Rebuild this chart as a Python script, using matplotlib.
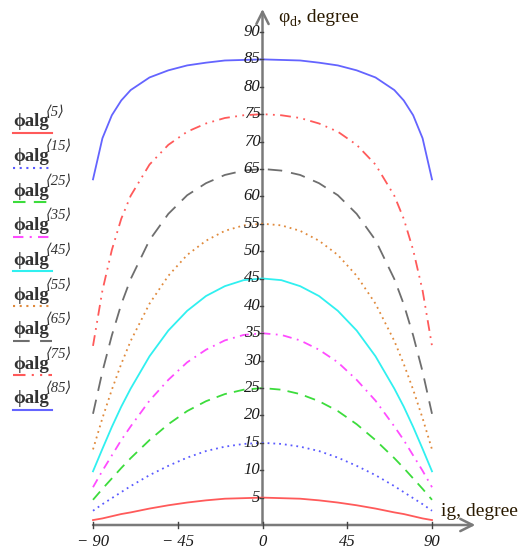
import matplotlib
matplotlib.use("Agg")
import matplotlib.pyplot as plt

# ---------------- data ----------------
ig = [-90, -85, -80, -75, -70, -60, -50, -40, -30, -20, -10, 0,
      10, 20, 30, 40, 50, 60, 70, 75, 80, 85, 90]

half_5  = [0.9, 1.2, 1.6, 2.0, 2.3, 3.0, 3.6, 4.1, 4.5, 4.8, 4.9, 5.0]
half_15 = [2.6, 3.8, 4.9, 6.0, 7.1, 9.1, 10.8, 12.3, 13.5, 14.3, 14.8, 15.0]
half_25 = [4.6, 6.6, 8.5, 10.4, 12.2, 15.5, 18.4, 20.8, 22.6, 23.9, 24.7, 25.0]
half_35 = [6.9, 9.9, 12.7, 15.5, 18.0, 22.7, 26.5, 29.7, 32.0, 33.7, 34.7, 35.0]
half_45 = [9.8, 13.9, 17.9, 21.6, 24.9, 30.8, 35.5, 39.1, 41.8, 43.6, 44.7, 45.0]
half_55 = [13.8, 19.5, 24.7, 29.4, 33.6, 40.4, 45.5, 49.3, 51.9, 53.7, 54.7, 55.0]
half_65 = [20.3, 28.0, 34.6, 40.3, 44.9, 52.0, 56.8, 60.2, 62.4, 63.9, 64.7, 65.0]
half_75 = [32.7, 42.8, 50.2, 55.9, 60.1, 65.8, 69.4, 71.8, 73.3, 74.3, 74.8, 75.0]
half_85 = [63.1, 70.6, 74.8, 77.5, 79.4, 81.7, 83.0, 83.9, 84.4, 84.8, 84.9, 85.0]

def sym(h):
    return h + h[-2::-1]

series_ids = [5, 15, 25, 35, 45, 55, 65, 75, 85]
series_vals = [sym(h) for h in [half_5, half_15, half_25, half_35, half_45,
                                half_55, half_65, half_75, half_85]]

y_ticks = [5, 10, 15, 20, 25, 30, 35, 40, 45, 50, 55, 60, 65, 70, 75, 80, 85, 90]
x_ticks = [-90, -45, 0, 45, 90]
x_tick_labels = ["\u2212 90", "\u2212 45", "0", "45", "90"]

# ---------------- styles ----------------
colors = ["#ff5a5a", "#5a5aff", "#3cdc3c", "#ff4cff", "#30f0f0",
          "#e08a3c", "#6e6e6e", "#ff5a5a", "#6464ff"]
styles = ["-", (0, (1, 2.2)), (0, (6, 4)), (0, (5, 3, 1, 3)), "-",
          (0, (1, 2.2)), (0, (8, 5)), (0, (6, 3, 1, 3, 1, 3)), "-"]

W, H = 525, 551
fig = plt.figure(figsize=(W / 100, H / 100), dpi=100)
x0, x1 = 93, 432
yb, yt = 525, 32
ax = fig.add_axes([x0 / W, (H - yb) / H, (x1 - x0) / W, (yb - yt) / H])
ax.set_xlim(-90, 90)
ax.set_ylim(0, 90)
ax.axis("off")

for vals, c, ls in zip(series_vals, colors, styles):
    ax.plot(ig, vals, color=c, ls=ls, lw=1.3, clip_on=False, zorder=3)

axis_col = "#7a7a7a"
serif = ["Liberation Serif", "DejaVu Serif", "DejaVu Sans"]

# axes with arrows
ax.annotate("", xy=(113, 0), xytext=(-90, 0), annotation_clip=False,
            arrowprops=dict(arrowstyle="->", color=axis_col, lw=1.8,
                            mutation_scale=22, shrinkA=0, shrinkB=0), zorder=2)
ax.annotate("", xy=(0, 94.2), xytext=(0, 0), annotation_clip=False,
            arrowprops=dict(arrowstyle="->", color=axis_col, lw=1.8,
                            mutation_scale=22, shrinkA=0, shrinkB=0), zorder=2)

# ticks
for t in y_ticks:
    ax.plot([-1.2, 0], [t, t], color="#444444", lw=1, clip_on=False, zorder=4)
    ax.annotate(str(t), xy=(0, t), xytext=(-1.5, 0), textcoords="offset points",
                ha="right", va="center", fontsize=12, style="italic",
                family=serif, color="#1a1a1a", zorder=5)
for t, lab in zip(x_ticks, x_tick_labels):
    ax.plot([t, t], [-0.5, 0.5], color="#444444", lw=1, clip_on=False, zorder=4)
    ax.annotate(lab, xy=(t, 0), xytext=(0, -12.5), textcoords="offset points",
                ha="center", va="center", fontsize=12, style="italic",
                family=serif, color="#1a1a1a")

# axis titles
fig.text(278 / W, 1 - 18 / H, "\u03c6", fontsize=14, family=serif,
         ha="left", va="center", color="#2a1a00")
fig.text(290 / W, 1 - 22 / H, "d", fontsize=10, family=serif,
         ha="left", va="center", color="#2a1a00")
fig.text(297 / W, 1 - 18 / H, ", degree", fontsize=14, family=serif,
         ha="left", va="center", color="#2a1a00")
fig.text(441 / W, 1 - 512 / H, "ig, degree", fontsize=14, family=serif,
         ha="left", va="center", color="#2a1a00")

# legend on the left
leg_y0, leg_dy = 133, 34.6
for i, (sid, c, ls) in enumerate(zip(series_ids, colors, styles)):
    yl = leg_y0 + i * leg_dy
    fig.add_artist(plt.Line2D([13 / W, 52 / W], [1 - yl / H, 1 - yl / H],
                              color=c, ls=ls, lw=1.5))
    fig.text(13 / W, 1 - (yl - 11) / H, "\u03d5alg", fontsize=13.5,
             family=serif, fontweight="bold", color="#333333",
             ha="left", va="center")
    fig.text(46 / W, 1 - (yl - 21) / H, "\u27e8" + str(sid) + "\u27e9",
             fontsize=10.5, family=serif, style="italic", color="#333333",
             ha="left", va="center")

fig.savefig("out.png", dpi=100)
